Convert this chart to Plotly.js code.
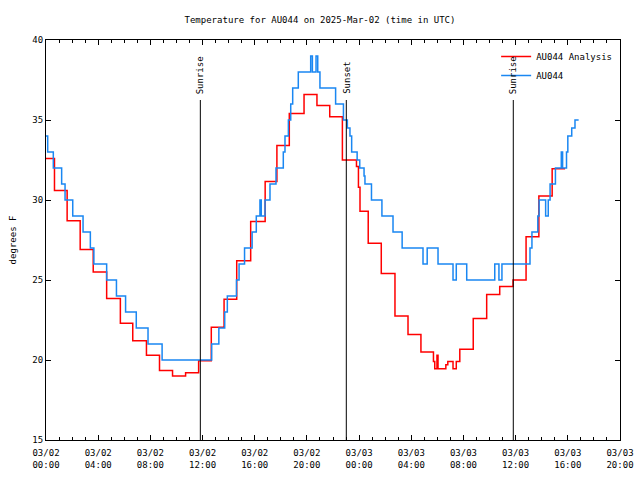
<!DOCTYPE html>
<html>
<head>
<meta charset="utf-8">
<script src="https://cdn.plot.ly/plotly-3.0.1.min.js"></script>
<style>html,body{margin:0;padding:0;background:#fff;}#chart{width:640px;height:480px;}</style>
</head>
<body>
<div id="chart"></div>
<script>
// Hours elapsed since 2025-03-02 00:00 UTC, and temperatures (deg F)
const analysisHours = [0, 0.65, 1.62, 2.62, 3.62, 4.65, 5.7, 6.65, 7.7, 8.7, 9.7, 10.7, 11.7, 12.67, 13.65, 14.62, 15.69, 16.8, 17.7, 18.65, 19.78, 20.77, 21.75, 22.72, 23.8, 23.95, 24.07, 24.7, 25.7, 26.75, 27.75, 28.74, 29.7, 29.8, 29.97, 30.05, 30.65, 30.8, 31.2, 31.45, 31.72, 32.75, 33.78, 34.78, 35.8, 36.8, 37.78, 38.8, 39.79];
const analysisTemps = [32.6, 30.6, 28.7, 26.9, 25.5, 23.85, 22.3, 21.2, 20.3, 19.35, 19.0, 19.2, 19.95, 22.05, 23.8, 26.2, 28.65, 31.15, 33.4, 35.4, 36.6, 35.9, 35.2, 32.5, 32.1, 30.8, 29.3, 27.3, 25.4, 22.75, 21.6, 20.5, 19.9, 19.45, 20.3, 19.45, 19.7, 19.9, 19.45, 19.9, 20.67, 22.6, 24.1, 24.6, 25.0, 27.7, 30.25, 31.95, 31.95];

const obsHours = [0, 0.13, 0.56, 1.2, 1.46, 2.05, 2.84, 3.4, 3.67, 4.65, 5.4, 6.1, 6.92, 7.82, 8.9, 12.7, 13.25, 13.7, 13.9, 14.6, 14.8, 15.22, 15.8, 16.12, 16.4, 16.5, 16.79, 17.17, 17.63, 18.19, 18.32, 18.58, 18.76, 18.91, 19.34, 20.29, 20.42, 20.7, 20.83, 21.0, 22.2, 22.8, 23.1, 23.3, 23.43, 23.85, 24.05, 24.38, 24.45, 24.95, 25.75, 26.6, 27.3, 28.9, 29.22, 30.05, 31.2, 31.45, 32.25, 34.4, 34.72, 34.95, 37.1, 37.25, 37.7, 37.8, 38.3, 38.5, 38.64, 39.05, 39.5, 39.6, 39.9, 40.0, 40.3, 40.55, 40.83];
const obsTemps = [34, 33, 32, 31, 30, 29, 28, 27, 26, 25, 24, 23, 22, 21, 20, 21, 22, 23, 24, 25, 26, 27, 28, 29, 30, 29, 30, 31, 32, 33, 34, 35, 36, 37, 38, 39, 38, 39, 38, 37, 36, 35, 34.5, 34, 33, 32.5, 32, 31.5, 31, 30, 29, 28, 27, 26, 27, 26, 25, 26, 25, 26, 25, 26, 27, 28, 29, 30, 29, 30, 31, 32, 33, 32, 33, 34, 34.5, 35, 35];

const seriesNames = ["AU044 Analysis", "AU044"];
const sunLabels = ["Sunrise", "Sunset", "Sunrise"];
const sunHours = [11.83, 23.02, 35.82];

const xStart = "2025-03-02 00:00:00";
const xEnd = "2025-03-03 20:00:00";

function hToTime(h) {
  const ms = Date.UTC(2025, 2, 2) + Math.round(h * 3600000);
  return new Date(ms).toISOString().replace("T", " ").slice(0, 19);
}

const FONT = "DejaVu Sans Mono, monospace";

const traces = [
  {
    x: analysisHours.map(hToTime), y: analysisTemps, name: seriesNames[0],
    type: "scatter", mode: "lines", line: {color: "#ff0000", width: 1.5, shape: "hv"}
  },
  {
    x: obsHours.map(hToTime), y: obsTemps, name: seriesNames[1],
    type: "scatter", mode: "lines", line: {color: "#1a87f2", width: 1.5, shape: "hv"}
  }
];

const shapes = sunHours.map(h => ({
  type: "line", xref: "x", yref: "y", x0: hToTime(h), x1: hToTime(h), y0: 15, y1: 36.25,
  line: {color: "#000", width: 1}
}));
const annotations = sunHours.map((h, i) => ({
  x: hToTime(h), y: 36.5, xref: "x", yref: "y", text: sunLabels[i], showarrow: false,
  textangle: -90, xanchor: "center", yanchor: "bottom", font: {family: FONT, size: 9, color: "#000"}
}));

const layout = {
  width: 640, height: 480,
  margin: {l: 46, r: 20, t: 40, b: 40},
  paper_bgcolor: "#fff", plot_bgcolor: "#fff",
  font: {family: FONT, size: 9, color: "#000"},
  title: {text: "Temperature for AU044 on 2025-Mar-02 (time in UTC)", x: 0.5, xanchor: "center",
          y: 0.958, yanchor: "middle", yref: "container", font: {family: FONT, size: 9, color: "#000"}},
  xaxis: {
    type: "date", range: [xStart, xEnd], tick0: xStart, dtick: 4 * 3600000,
    tickformat: "%m/%d<br>%H:%M", ticks: "inside", ticklen: 5, tickcolor: "#000",
    ticklabelstandoff: 4,
    minor: {dtick: 3600000, ticks: "inside", ticklen: 3, tickcolor: "#000", showgrid: false},
    showline: true, linecolor: "#000", linewidth: 1, mirror: "ticks",
    showgrid: false, zeroline: false, tickfont: {family: FONT, size: 9}
  },
  yaxis: {
    range: [15, 40], dtick: 5, ticks: "inside", ticklen: 5, tickcolor: "#000",
    showline: true, linecolor: "#000", linewidth: 1, mirror: "ticks",
    showgrid: false, zeroline: false, tickfont: {family: FONT, size: 9},
    title: {text: "degrees F", font: {family: FONT, size: 9}, standoff: 14}
  },
  legend: {x: 0.995, xanchor: "right", y: 0.995, yanchor: "top", bgcolor: "rgba(0,0,0,0)",
           font: {family: FONT, size: 9}, itemwidth: 30, tracegroupgap: 0},
  shapes: shapes,
  annotations: annotations,
  showlegend: true
};

Plotly.newPlot("chart", traces, layout, {displayModeBar: false, staticPlot: true});
</script>
</body>
</html>
